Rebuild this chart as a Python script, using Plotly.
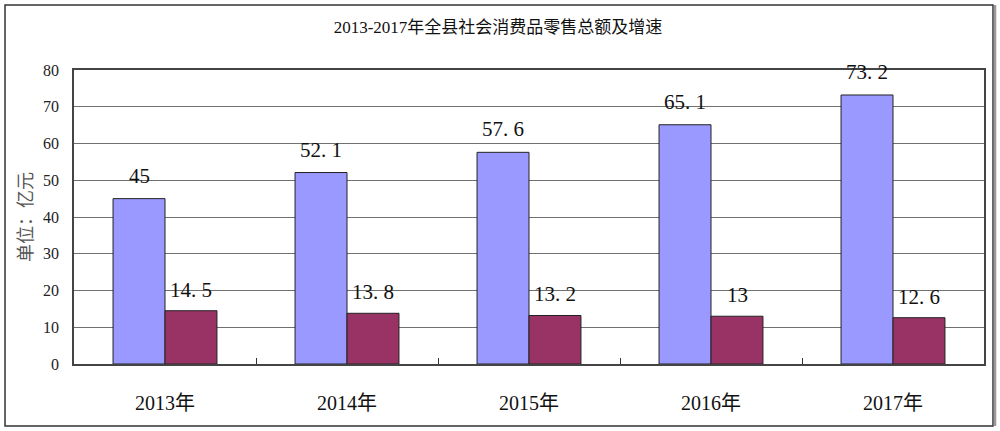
import plotly.graph_objects as go

categories = ["2013年", "2014年", "2015年", "2016年", "2017年"]
sales = [45, 52.1, 57.6, 65.1, 73.2]
growth = [14.5, 13.8, 13.2, 13, 12.6]
y_ticks = [0, 10, 20, 30, 40, 50, 60, 70, 80]

title_text = "2013-2017年全县社会消费品零售总额及增速"
y_title = "单位：亿元"

SERIF = "Liberation Serif, DejaVu Serif, Noto Sans CJK SC, serif"


def fmt(v):
    return f"{v:g}".replace(".", ". ")


fig = go.Figure()
fig.add_trace(go.Bar(x=categories, y=sales, name="总额",
                     marker=dict(color="#9999FF", line=dict(color="#222222", width=1)),
                     hoverinfo="x+y"))
fig.add_trace(go.Bar(x=categories, y=growth, name="增速",
                     marker=dict(color="#993366", line=dict(color="#222222", width=1)),
                     hoverinfo="x+y"))

annotations = []
for c, v in zip(categories, sales):
    annotations.append(dict(x=c, y=v, xref="x", yref="y", text=fmt(v), showarrow=False,
                            xshift=-26, yshift=9, yanchor="bottom",
                            font=dict(family=SERIF, size=21, color="#111111")))
for c, v in zip(categories, growth):
    annotations.append(dict(x=c, y=v, xref="x", yref="y", text=fmt(v), showarrow=False,
                            xshift=26, yshift=7, yanchor="bottom",
                            font=dict(family=SERIF, size=21, color="#111111")))
annotations.append(dict(x=-0.0527, y=0.5, xref="paper", yref="paper", text=y_title,
                        showarrow=False, textangle=-90, xanchor="center", yanchor="middle",
                        font=dict(family=SERIF, size=18, color="#555555")))

shapes = [dict(type="rect", xref="paper", yref="paper",
               x0=-0.0758, x1=1.0099, y0=-0.2109, y1=1.2211,
               line=dict(color="#333333", width=1.5), layer="below"),
          dict(type="line", xref="paper", yref="paper",
               x0=1.0121, x1=1.0121, y0=-0.2109, y1=1.2211,
               line=dict(color="#999999", width=2.5))]

fig.update_layout(
    width=1000, height=431,
    margin=dict(l=74, r=16, t=70, b=67),
    paper_bgcolor="white", plot_bgcolor="white",
    title=dict(text=title_text, x=0.498, xref="container", xanchor="center", y=0.937, yanchor="middle",
               font=dict(family=SERIF, size=17, color="#111111")),
    barmode="group", bargap=0.429, bargroupgap=0,
    showlegend=False,
    annotations=annotations,
    shapes=shapes,
    xaxis=dict(type="category", tickson="boundaries", ticks="inside", ticklen=6,
               tickcolor="#333333", showline=True, linecolor="#444444", linewidth=1.5,
               mirror=True, showgrid=False, ticklabelstandoff=20,
               tickfont=dict(family=SERIF, size=20, color="#111111")),
    yaxis=dict(range=[0, 80], tickvals=y_ticks, showgrid=True, gridcolor="#707070",
               gridwidth=1, showline=True, linecolor="#444444", linewidth=1.5, mirror=True,
               ticks="", ticklabelstandoff=10, zeroline=False,
               tickfont=dict(family=SERIF, size=16, color="#222222")),
)

fig.write_html("out.html")
